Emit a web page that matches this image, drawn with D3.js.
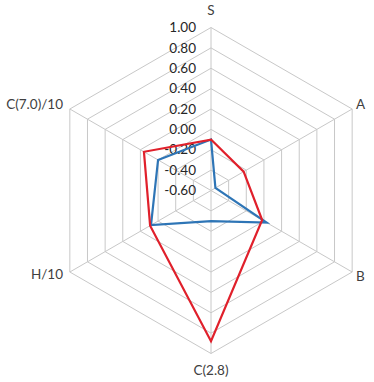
<!DOCTYPE html>
<html>
<head>
<meta charset="utf-8">
<script src="https://cdn.jsdelivr.net/npm/d3@7"></script>
<style>
  body { margin: 0; background: #fff; }
  svg { display: block; font-family: Lato, "Open Sans", sans-serif; }
</style>
</head>
<body>
<script>
// axes, clockwise from the top
axes = ["S", "A", "B", "C(2.8)", "H/10", "C(7.0)/10"]

// the two series, one value per axis
redValues = [-0.10, -0.23, -0.02, 0.88, 0.09, 0.16]
blueValues = [-0.10, -0.55, 0.03, -0.30, 0.08, 0.00]

tickValues = [-0.60, -0.40, -0.20, 0.00, 0.20, 0.40, 0.60, 0.80, 1.00]

width = 374
height = 382
cx = 211
cy = 190.5
radius = 163

r = d3.scaleLinear().domain([-0.6, 1.0]).range([0, radius])

angle = d3.scalePoint().domain(axes).range([0, 2 * Math.PI * 5 / 6])

// plain hyphen for negatives, like the original
fmt = d3.formatLocale({decimal: ".", thousands: ",", grouping: [3], currency: ["", ""], minus: "-"}).format(".2f")

function point(a, v) {
  const t = angle(a)
  return [Math.sin(t) * r(v), -Math.cos(t) * r(v)]
}

const svg = d3.select("body").append("svg")
    .attr("width", width)
    .attr("height", height)

const g = svg.append("g")
    .attr("transform", `translate(${cx},${cy})`)

// hexagon rings
const ring = d3.line().curve(d3.curveLinearClosed)
g.selectAll("path.ring")
  .data(tickValues.slice(1))
  .join("path")
    .attr("class", "ring")
    .attr("fill", "none")
    .attr("stroke", "#c8c8c8")
    .attr("stroke-width", 1)
    .attr("d", v => ring(axes.map(a => point(a, v))))

// spokes
g.selectAll("line.spoke")
  .data(axes)
  .join("line")
    .attr("class", "spoke")
    .attr("stroke", "#c8c8c8")
    .attr("x1", 0).attr("y1", 0)
    .attr("x2", a => point(a, 1.0)[0])
    .attr("y2", a => point(a, 1.0)[1])

// tick labels along S axis
g.selectAll("text.tick")
  .data(tickValues)
  .join("text")
    .attr("class", "tick")
    .attr("x", -15)
    .attr("y", v => -r(v))
    .attr("dy", "0.35em")
    .attr("text-anchor", "end")
    .attr("font-size", 13.5)
    .attr("fill", "#262626")
    .text(fmt)

// axis labels
const labelPos = {
  "S": [0, -180, "middle"],
  "A": [145, -86, "start"],
  "B": [145, 86, "start"],
  "C(2.8)": [0, 180, "middle"],
  "H/10": [-148, 84, "end"],
  "C(7.0)/10": [-148, -86, "end"]
}
g.selectAll("text.axis")
  .data(axes)
  .join("text")
    .attr("class", "axis")
    .attr("x", a => labelPos[a][0])
    .attr("y", a => labelPos[a][1])
    .attr("dy", "0.35em")
    .attr("text-anchor", a => labelPos[a][2])
    .attr("font-size", 13.5)
    .attr("fill", "#404040")
    .text(a => a)

// series
const series = [
  {values: blueValues, color: "#2e75b6"},
  {values: redValues, color: "#e0202b"}
]
g.selectAll("path.series")
  .data(series)
  .join("path")
    .attr("class", "series")
    .attr("fill", "none")
    .attr("stroke", d => d.color)
    .attr("stroke-width", 2.2)
    .attr("stroke-linejoin", "miter")
    .attr("d", d => ring(axes.map((a, i) => point(a, d.values[i]))))
</script>
</body>
</html>
